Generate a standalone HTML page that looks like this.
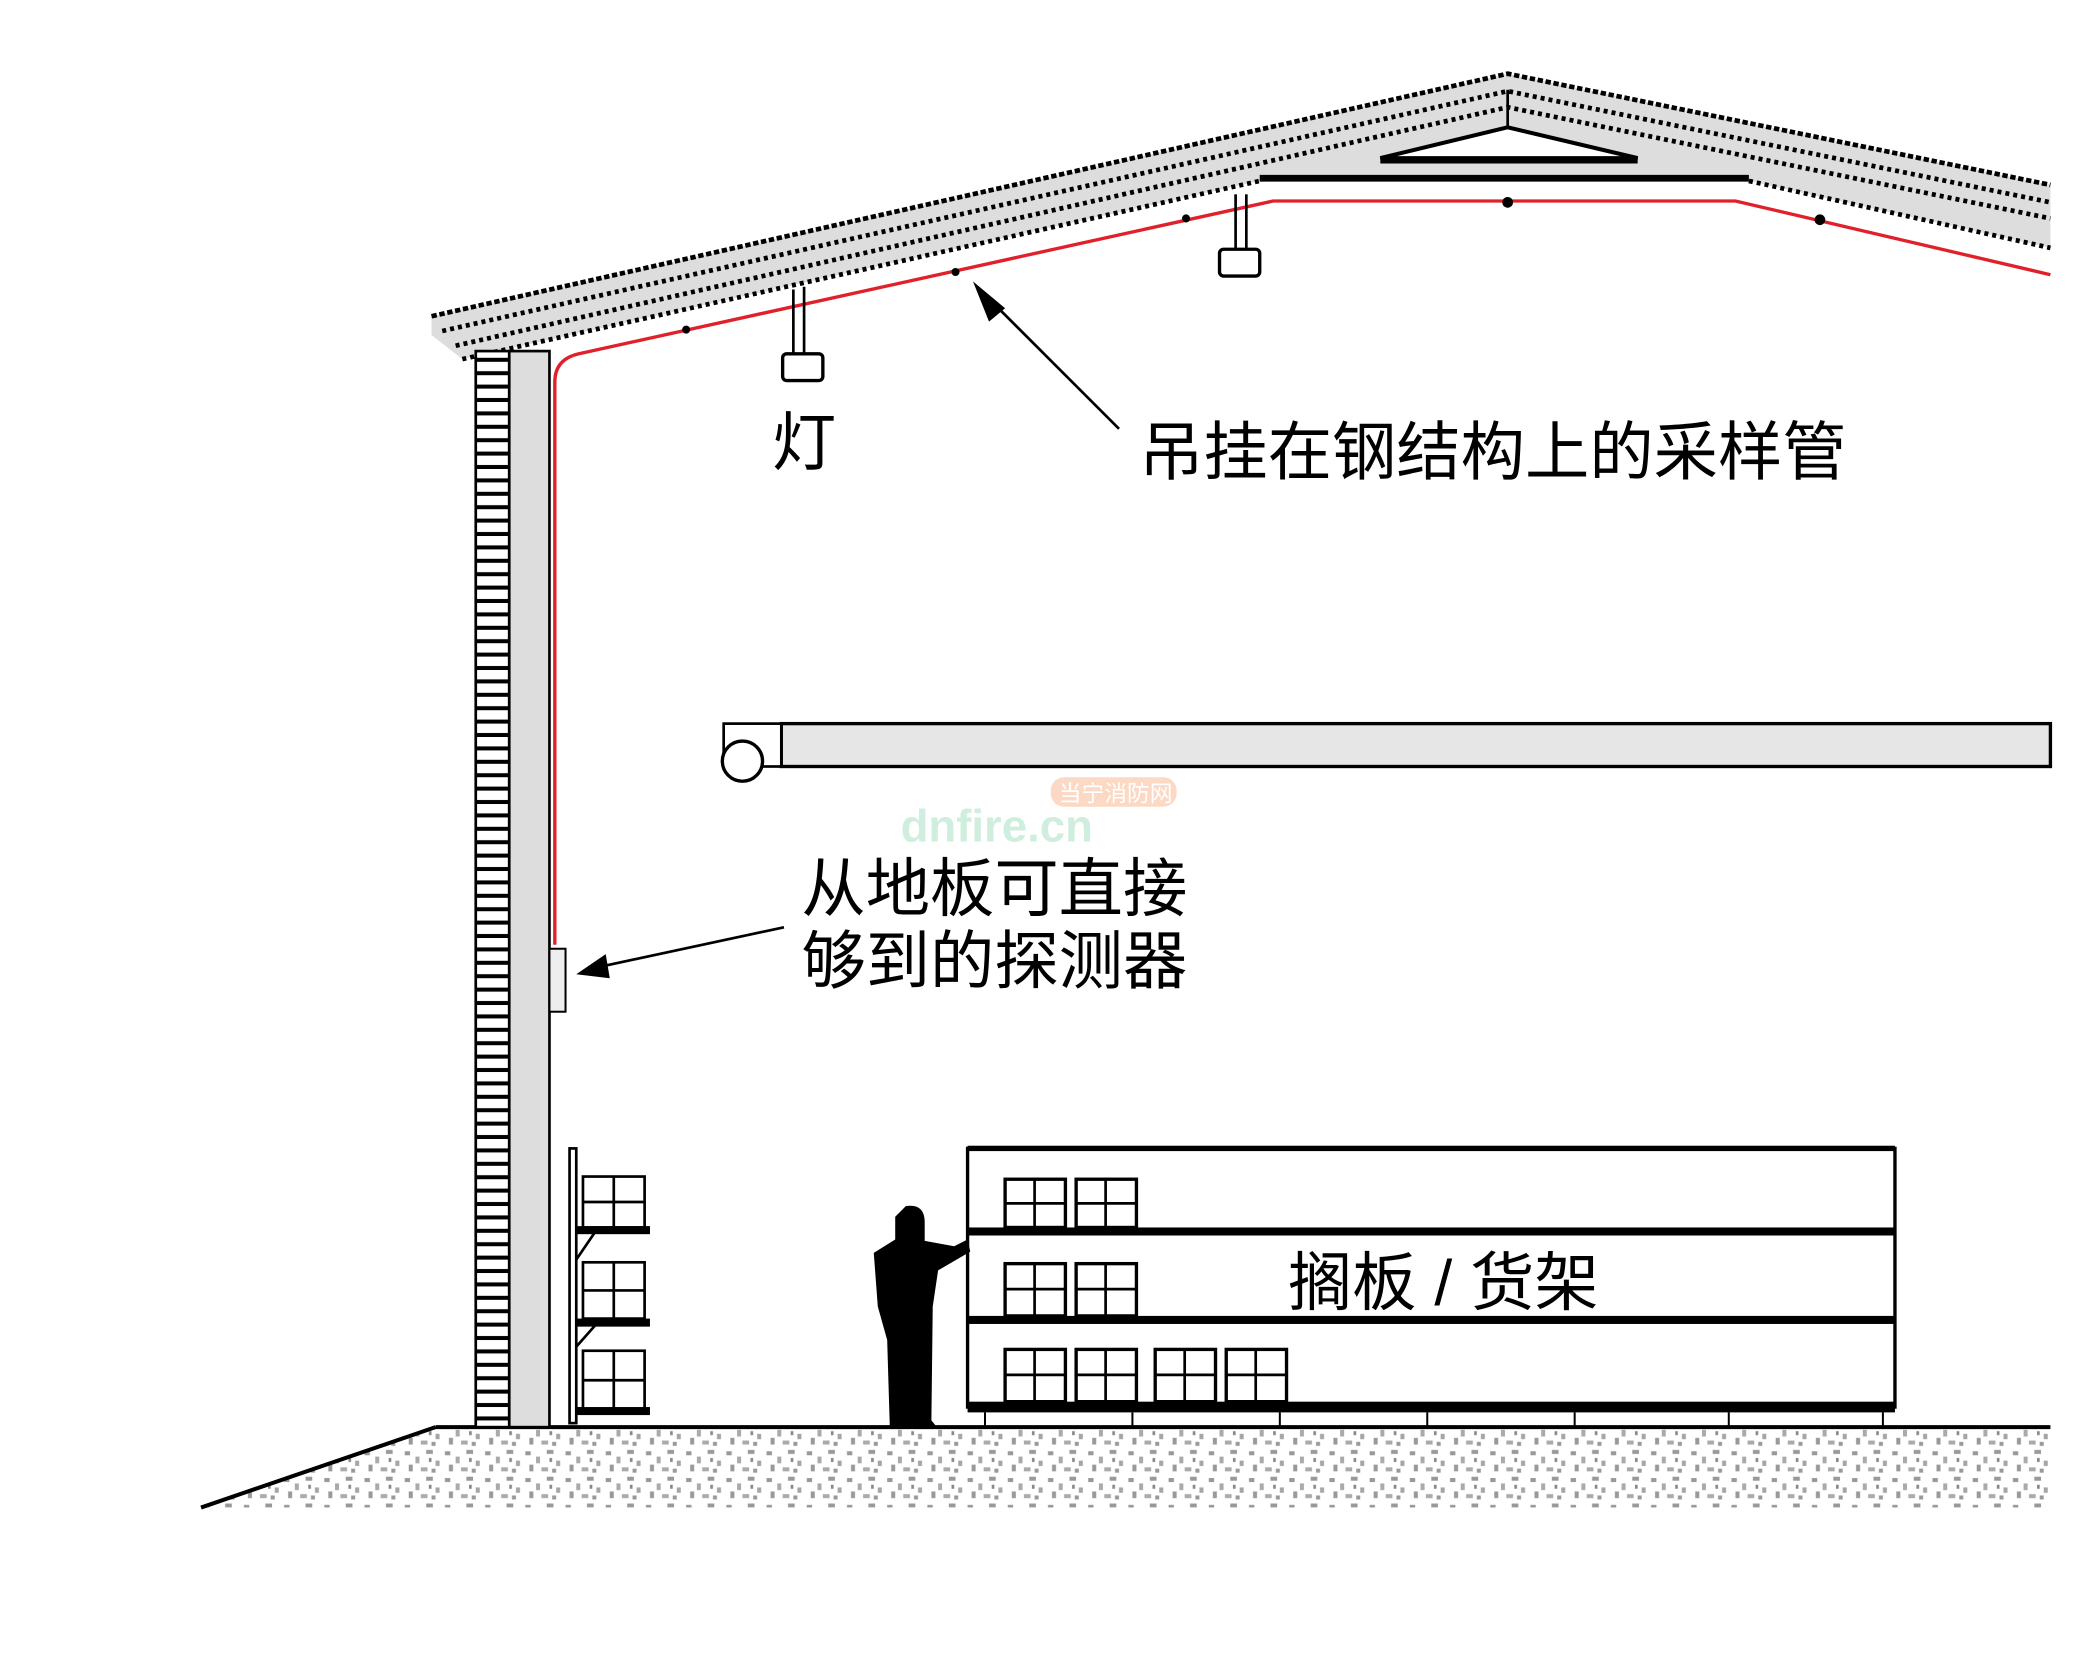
<!DOCTYPE html>
<html><head><meta charset="utf-8"><style>
html,body{margin:0;padding:0;background:#fff;}
svg{display:block}
text{font-family:"Liberation Sans","Noto Sans CJK SC",sans-serif;}
</style></head><body>
<svg width="2100" height="1667" viewBox="0 0 1567 1244" preserveAspectRatio="none" xmlns="http://www.w3.org/2000/svg">
<defs>
<pattern id="sp" width="30" height="20" patternUnits="userSpaceOnUse">
<rect x="2" y="3" width="4" height="3" fill="#999"/><rect x="10" y="7" width="3" height="5" fill="#aaa"/>
<rect x="18" y="2" width="5" height="3" fill="#999"/><rect x="25" y="10" width="3" height="4" fill="#a5a5a5"/>
<rect x="5" y="13" width="3" height="5" fill="#999"/><rect x="14" y="15" width="5" height="3" fill="#aaa"/>
<rect x="22" y="16" width="3" height="3" fill="#999"/><rect x="20" y="8" width="2" height="3" fill="#888"/>
</pattern>
<pattern id="ld" width="10" height="10" patternUnits="userSpaceOnUse">
<rect width="10" height="10" fill="#fff"/><rect y="7" width="10" height="3" fill="#000"/>
</pattern>
</defs>
<polygon points="325,1065 1530,1065 1530,1125 150,1125" fill="url(#sp)"/>
<line x1="325" y1="1065" x2="1530" y2="1065" stroke="#000" stroke-width="3"/>
<line x1="325" y1="1065" x2="150" y2="1125" stroke="#000" stroke-width="3"/>
<polygon points="322,236 1125,55 1530,138 1530,185 1305,135 940,135 345,268 322,250" fill="#ddd"/>
<polyline points="322,236 1125,55 1530,138" fill="none" stroke="#000" stroke-width="3.5" stroke-dasharray="4,2"/>
<polyline points="330,247 1125,68 1530,151" fill="none" stroke="#000" stroke-width="3.5" stroke-dasharray="3,3"/>
<polyline points="340,258 1125,80 1530,163" fill="none" stroke="#000" stroke-width="3.5" stroke-dasharray="3,3"/>
<polyline points="345,268 940,135" fill="none" stroke="#000" stroke-width="3.5" stroke-dasharray="3,3"/>
<polyline points="1305,135 1530,185" fill="none" stroke="#000" stroke-width="3.5" stroke-dasharray="3,3"/>
<line x1="940" y1="133" x2="1305" y2="133" stroke="#000" stroke-width="5"/>
<line x1="1125" y1="67" x2="1125" y2="112" stroke="#000" stroke-width="2"/>
<polygon points="1030,118 1125,95 1222,118" fill="#fff" stroke="#000" stroke-width="3"/>
<line x1="1030" y1="120" x2="1222" y2="120" stroke="#000" stroke-width="4"/>
<rect x="355" y="262" width="25" height="803" fill="url(#ld)" stroke="#000" stroke-width="2"/>
<rect x="380" y="262" width="30" height="803" fill="#ddd" stroke="#000" stroke-width="2"/>
<path d="M414,705 L414,285 Q414,268 432,264 L950,150 L1295,150 L1530,205" fill="none" stroke="#e0202a" stroke-width="2.5"/>
<g fill="#000"><circle cx="512" cy="246" r="3"/><circle cx="713" cy="203" r="3"/><circle cx="885" cy="163" r="3"/><circle cx="1125" cy="151" r="4"/><circle cx="1358" cy="164" r="4"/></g>
<line x1="592" y1="216" x2="592" y2="265" stroke="#000" stroke-width="2"/><line x1="600" y1="214" x2="600" y2="265" stroke="#000" stroke-width="2"/>
<rect x="584" y="264" width="30" height="20" rx="3" fill="#fff" stroke="#000" stroke-width="2.5"/>
<line x1="922" y1="145" x2="922" y2="187" stroke="#000" stroke-width="2"/><line x1="930" y1="145" x2="930" y2="187" stroke="#000" stroke-width="2"/>
<rect x="910" y="186" width="30" height="20" rx="3" fill="#fff" stroke="#000" stroke-width="2.5"/>
<line x1="835" y1="320" x2="740" y2="225" stroke="#000" stroke-width="2"/>
<polygon points="726,210 750,230 738,240" fill="#000"/>
<text x="576" y="347" font-size="48">灯</text>
<text x="850" y="354" font-size="48">吊挂在钢结构上的采样管</text>
<rect x="583" y="540" width="947" height="32" fill="#e6e6e6" stroke="#000" stroke-width="2.5"/>
<rect x="540" y="540" width="43" height="32" fill="#fff" stroke="#000" stroke-width="2"/>
<circle cx="554" cy="568" r="15" fill="#fff" stroke="#000" stroke-width="2.5"/>
<text x="672" y="628" font-size="34" font-weight="bold" fill="#cfeede">dnfire.cn</text>
<rect x="784" y="580" width="94" height="22" rx="10" fill="#fbd9c4"/>
<text x="790" y="598" font-size="17" fill="#fff">当宁消防网</text>
<rect x="410" y="708" width="12" height="47" fill="#eee" stroke="#000" stroke-width="1.5"/>
<line x1="585" y1="692" x2="445" y2="722" stroke="#000" stroke-width="2"/>
<polygon points="430,727 452,712 455,730" fill="#000"/>
<text x="598" y="680" font-size="48">从地板可直接</text>
<text x="598" y="734" font-size="48">够到的探测器</text>
<g stroke="#000" fill="#fff" stroke-width="2">
<rect x="425" y="857" width="5" height="205"/>
<rect x="435" y="878" width="46" height="38"/><rect x="435" y="942" width="46" height="42"/><rect x="435" y="1008" width="46" height="44"/>
<line x1="458" y1="878" x2="458" y2="916"/><line x1="435" y1="897" x2="481" y2="897"/>
<line x1="458" y1="942" x2="458" y2="984"/><line x1="435" y1="963" x2="481" y2="963"/>
<line x1="458" y1="1008" x2="458" y2="1052"/><line x1="435" y1="1030" x2="481" y2="1030"/>
<line x1="430" y1="940" x2="445" y2="918"/><line x1="430" y1="1005" x2="445" y2="988"/>
</g>
<g fill="#000"><rect x="430" y="915" width="55" height="6"/><rect x="430" y="984" width="55" height="6"/><rect x="430" y="1050" width="55" height="6"/></g>
<rect x="722" y="857" width="692" height="193" fill="#fff" stroke="#000" stroke-width="2.5"/>
<g fill="#000"><rect x="722" y="855" width="692" height="4"/><rect x="722" y="916" width="692" height="6"/><rect x="722" y="982" width="692" height="6"/><rect x="722" y="1046" width="692" height="8"/></g>
<g stroke="#000" stroke-width="1.5"><line x1="735" y1="1054" x2="735" y2="1065"/><line x1="845" y1="1054" x2="845" y2="1065"/><line x1="955" y1="1054" x2="955" y2="1065"/><line x1="1065" y1="1054" x2="1065" y2="1065"/><line x1="1175" y1="1054" x2="1175" y2="1065"/><line x1="1290" y1="1054" x2="1290" y2="1065"/><line x1="1405" y1="1054" x2="1405" y2="1065"/></g>
<g stroke="#000" fill="#fff" stroke-width="2.5">
<rect x="750" y="880" width="45" height="36"/><rect x="803" y="880" width="45" height="36"/>
<rect x="750" y="943" width="45" height="39"/><rect x="803" y="943" width="45" height="39"/>
<rect x="750" y="1007" width="45" height="39"/><rect x="803" y="1007" width="45" height="39"/><rect x="862" y="1007" width="45" height="39"/><rect x="915" y="1007" width="45" height="39"/>
</g>
<g stroke="#000" stroke-width="2">
<path d="M772,880v36M750,898h45M825,880v36M803,898h45M772,943v39M750,962h45M825,943v39M803,962h45M772,1007v39M750,1026h45M825,1007v39M803,1026h45M884,1007v39M862,1026h45M937,1007v39M915,1026h45"/>
</g>
<text x="961" y="974" font-size="48">搁板 / 货架</text>
<path d="M676,900 Q690,898 690,912 L690,926 L712,930 L722,925 L724,934 L700,948 L696,975 L695,1060 L700,1066 L664,1066 L662,1000 L655,975 L652,935 L668,925 L668,908 Z" fill="#000"/>
</svg>
</body></html>
